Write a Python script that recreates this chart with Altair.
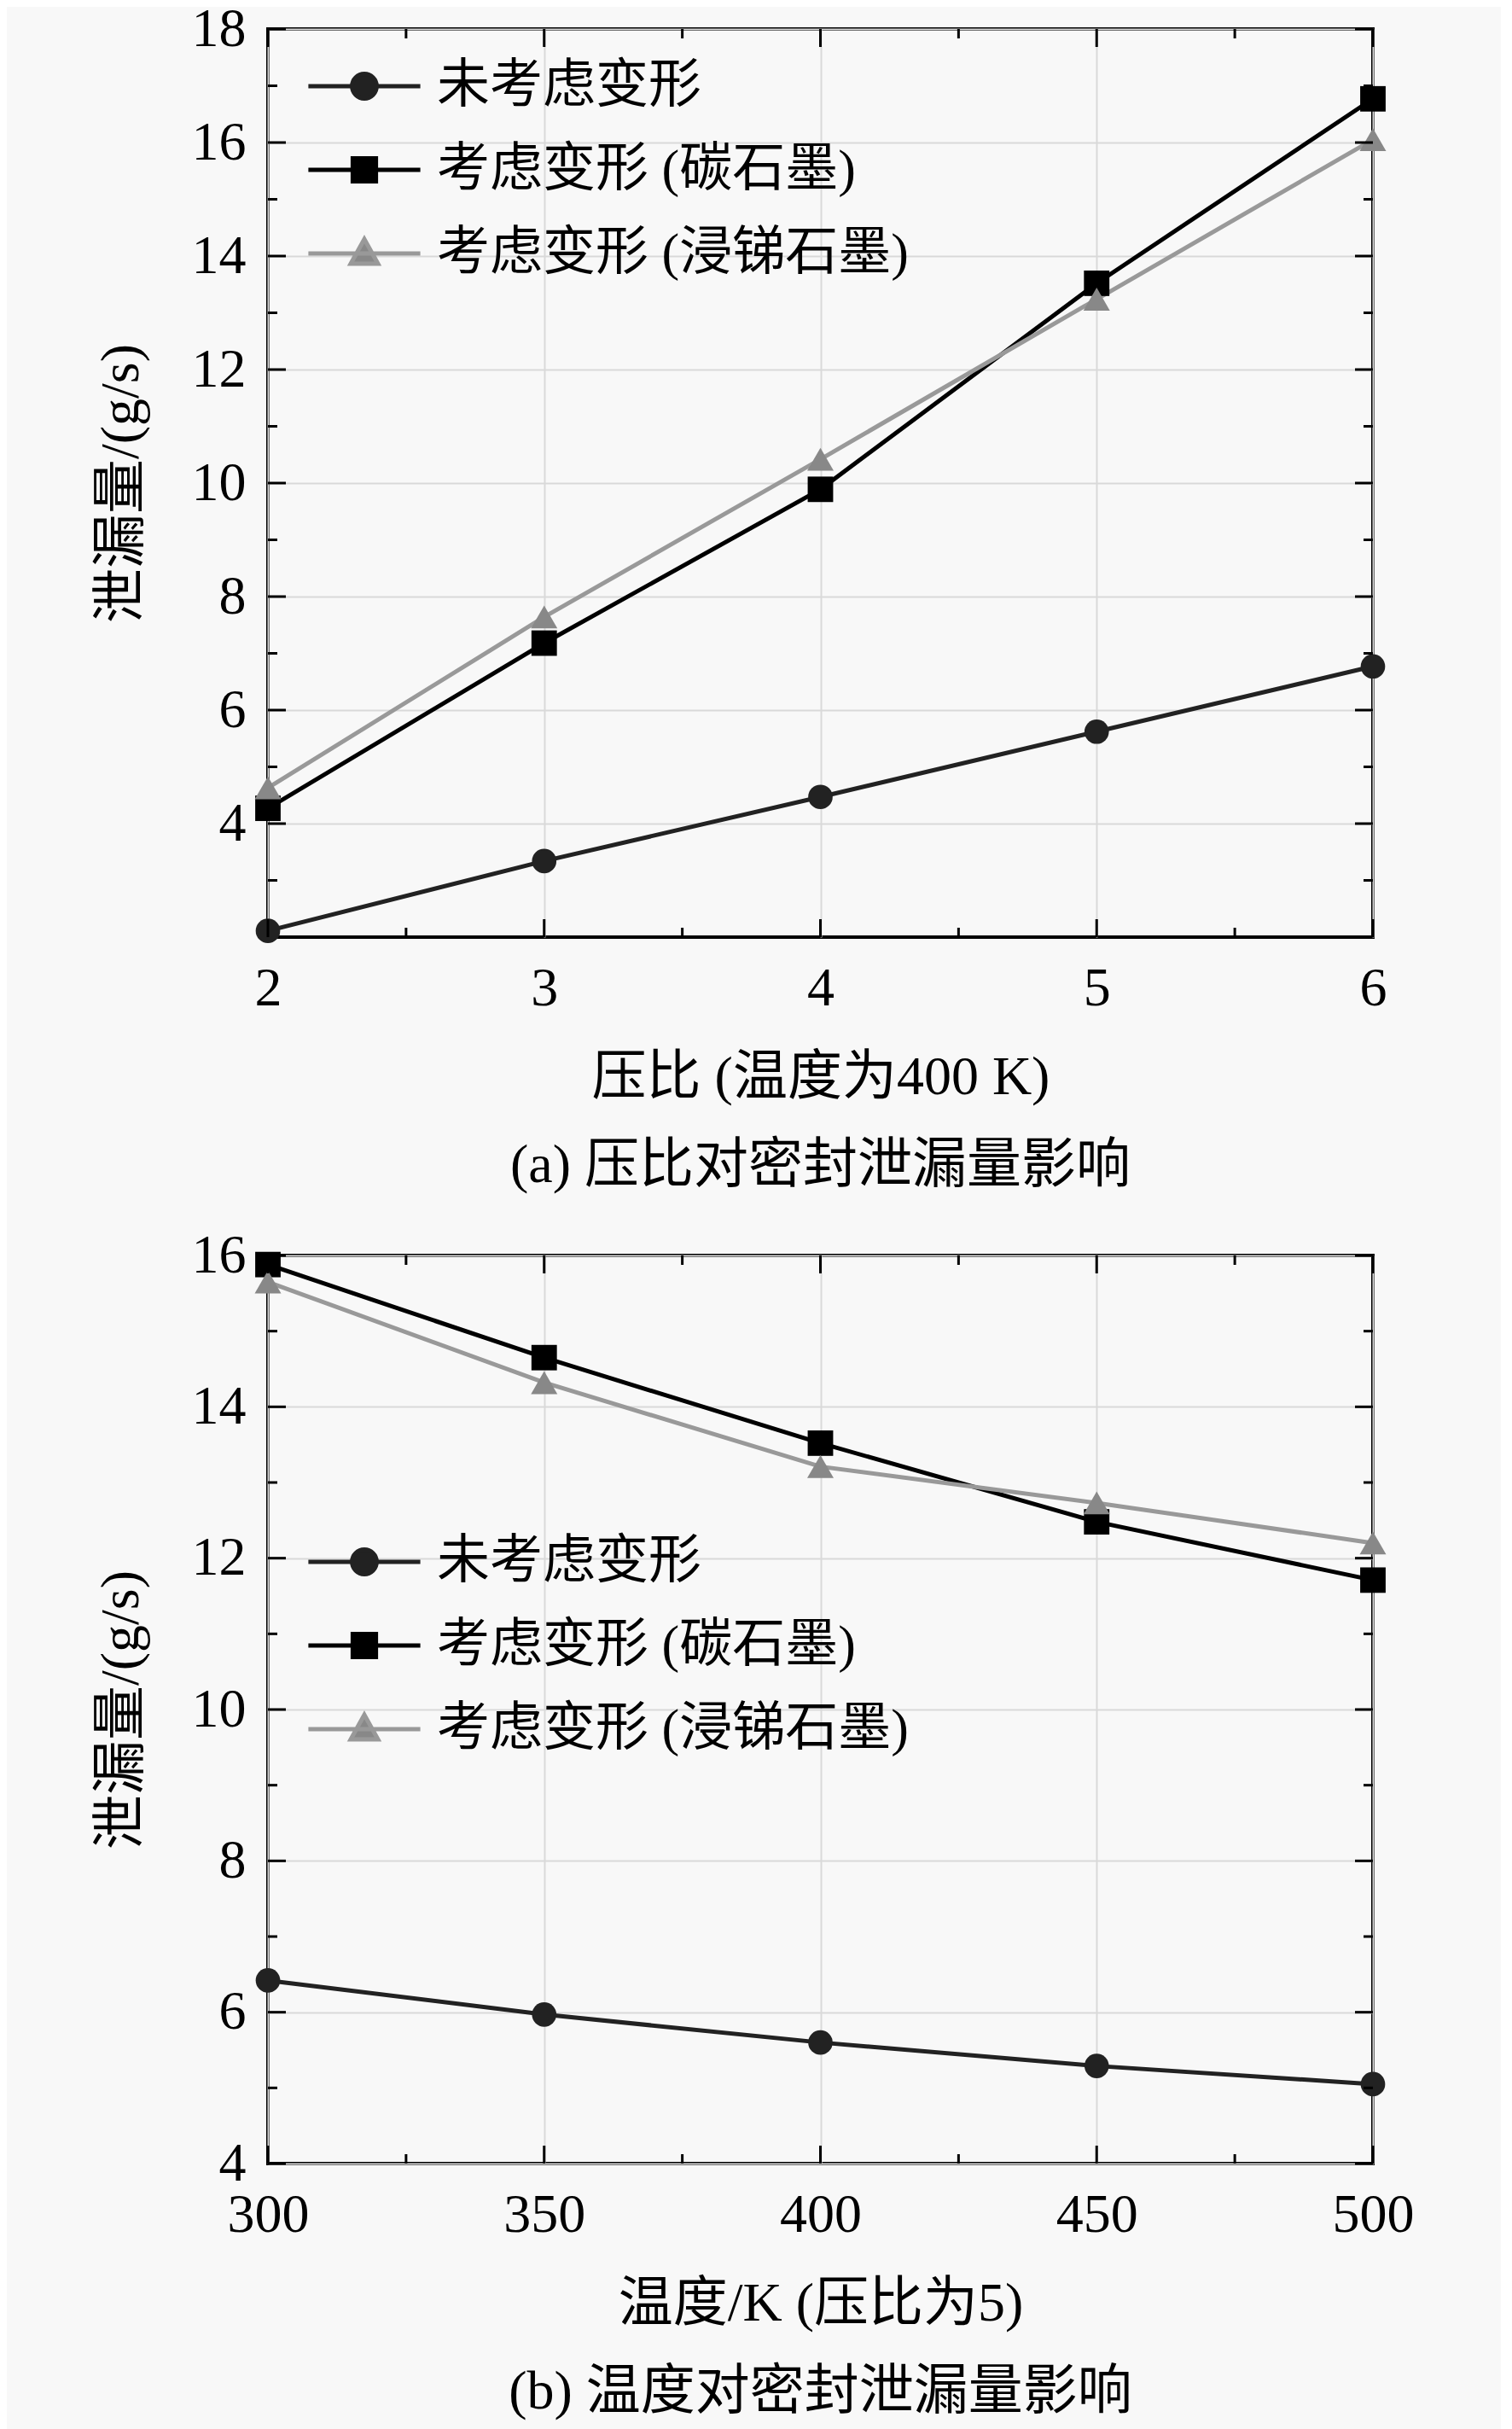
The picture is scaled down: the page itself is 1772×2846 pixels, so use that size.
import altair as alt
import pandas as pd

FONT = "Liberation Serif, Noto Sans CJK SC"

series = ["未考虑变形", "考虑变形 (碳石墨)", "考虑变形 (浸锑石墨)"]

# panel (a): pressure ratio
pr = [2, 3, 4, 5, 6]
a_none = [2.11, 3.34, 4.47, 5.62, 6.77]
a_carbon = [4.27, 7.18, 9.89, 13.52, 16.77]
a_sb = [4.63, 7.64, 10.42, 13.24, 16.05]

# panel (b): temperature
temp = [300, 350, 400, 450, 500]
b_none = [6.42, 5.97, 5.60, 5.29, 5.05]
b_carbon = [15.88, 14.65, 13.52, 12.48, 11.71]
b_sb = [15.65, 14.32, 13.21, 12.73, 12.20]

a_xmaj = [2, 3, 4, 5, 6]
a_xmin = [2.5, 3.5, 4.5, 5.5]
a_ymaj = [4, 6, 8, 10, 12, 14, 16, 18]
a_ymin = [3, 5, 7, 9, 11, 13, 15, 17]

b_xmaj = [300, 350, 400, 450, 500]
b_xmin = [325, 375, 425, 475]
b_ymaj = [4, 6, 8, 10, 12, 14, 16]
b_ymin = [5, 7, 9, 11, 13, 15]

line_colors = ["#222222", "#000000", "#999999"]
fill_colors = ["#222222", "#000000", "#888888"]
point_shapes = ["circle", "square", "triangle-up"]
point_sizes = [820, 960, 1250]
legend_paths = [
    "M-4.1,0H4.1M-0.9,0A0.9,0.9 0 1,0 0.9,0A0.9,0.9 0 1,0 -0.9,0Z",
    "M-4.1,0H4.1M-0.85,-0.85H0.85V0.85H-0.85Z",
    "M-4.1,0H4.1M0,-1.05L1,0.75H-1Z",
]

W, H = 1295, 1064
MAJ, MIN = 21, 11


def make_df(xs, ys_list):
    rows = []
    for s, ys in zip(series, ys_list):
        for xv, yv in zip(xs, ys):
            rows.append({"x": xv, "y": yv, "series": s})
    return pd.DataFrame(rows)


def panel(df, xdom, xmaj, xmin, ydom, ymaj, ymin, xtitle, caption, legY):
    xscale = alt.Scale(domain=xdom, nice=False, zero=False)
    yscale = alt.Scale(domain=ydom, nice=False, zero=False)
    common = dict(
        grid=True, gridColor="#d9d9d9", gridWidth=2, domain=False, ticks=False,
        labelFont=FONT, labelFontSize=64, labelColor="black", labelFlush=False,
        labelOverlap=False, titleFont=FONT, titleFontSize=64, titleFontWeight="normal",
        titleColor="black",
    )
    xaxis = alt.Axis(values=xmaj, title=xtitle, labelPadding=28, titlePadding=40, **common)
    yaxis = alt.Axis(values=ymaj, title="泄漏量/(g/s)", labelPadding=26, titlePadding=50, **common)
    X = alt.X("x:Q", scale=xscale, axis=xaxis)
    Y = alt.Y("y:Q", scale=yscale, axis=yaxis)

    base = alt.Chart(df)
    lines = base.mark_line(strokeWidth=5).encode(
        x=X, y=Y,
        stroke=alt.Stroke("series:N", scale=alt.Scale(domain=series, range=line_colors), legend=None),
    )
    points = base.mark_point(filled=True, opacity=1, strokeWidth=0).encode(
        x=X, y=Y,
        fill=alt.Fill("series:N", scale=alt.Scale(domain=series, range=fill_colors), legend=None),
        shape=alt.Shape("series:N", scale=alt.Scale(domain=series, range=point_shapes), legend=None),
        size=alt.Size("series:N", scale=alt.Scale(domain=series, range=point_sizes), legend=None),
    )

    def xticks(vals, ln):
        d = pd.DataFrame({"x": vals})
        b = alt.Chart(d).mark_rule(color="black", strokeWidth=3)
        bot = b.encode(x=alt.X("x:Q", scale=xscale, axis=xaxis), y=alt.value(H), y2=alt.value(H - ln))
        top = b.encode(x=alt.X("x:Q", scale=xscale, axis=xaxis), y=alt.value(0), y2=alt.value(ln))
        return [bot, top]

    def yticks(vals, ln):
        d = pd.DataFrame({"y": vals})
        b = alt.Chart(d).mark_rule(color="black", strokeWidth=3)
        lft = b.encode(y=alt.Y("y:Q", scale=yscale, axis=yaxis), x=alt.value(0), x2=alt.value(ln))
        rgt = b.encode(y=alt.Y("y:Q", scale=yscale, axis=yaxis), x=alt.value(W), x2=alt.value(W - ln))
        return [lft, rgt]

    leg = alt.Legend(
        title=None, orient="none", legendX=82, legendY=legY, padding=0,
        symbolSize=1024, symbolStrokeWidth=5, symbolOpacity=1,
        labelFont=FONT, labelFontSize=62, labelColor="black", labelOffset=54,
        rowPadding=36, labelLimit=1000,
    )
    ldf = pd.DataFrame({"lg": series})
    legend_layer = alt.Chart(ldf).mark_point(filled=True, opacity=0).encode(
        shape=alt.Shape("lg:N", scale=alt.Scale(domain=series, range=legend_paths), legend=leg),
        fill=alt.Fill("lg:N", scale=alt.Scale(domain=series, range=fill_colors), legend=leg),
        stroke=alt.Stroke("lg:N", scale=alt.Scale(domain=series, range=line_colors), legend=leg),
    )

    layers = [lines, points] + xticks(xmaj, MAJ) + xticks(xmin, MIN) + yticks(ymaj, MAJ) + yticks(ymin, MIN) + [legend_layer]
    ch = alt.layer(*layers).properties(
        width=W, height=H,
        title=alt.Title(caption, orient="bottom", font=FONT, fontSize=64, fontWeight="normal",
                        color="black", offset=40, anchor="middle", frame="group"),
    ).resolve_scale(shape="independent", fill="independent", stroke="independent", size="independent")
    return ch


ca = panel(make_df(pr, [a_none, a_carbon, a_sb]), [2, 6], a_xmaj, a_xmin, [2, 18], a_ymaj, a_ymin,
           "压比 (温度为400 K)", "(a) 压比对密封泄漏量影响", 36)
cb = panel(make_df(temp, [b_none, b_carbon, b_sb]), [300, 500], b_xmaj, b_xmin, [4, 16], b_ymaj, b_ymin,
           "温度/K (压比为5)", "(b) 温度对密封泄漏量影响", 328)

chart = alt.vconcat(ca, cb, spacing=37).properties(
    padding={"left": 100, "top": -8, "right": 100, "bottom": 10},
    background="#f8f8f8",
).configure_view(stroke="black", strokeWidth=4).configure_concat(spacing=37)

chart.save("out.html", embed_options={"renderer": "svg", "actions": False})
